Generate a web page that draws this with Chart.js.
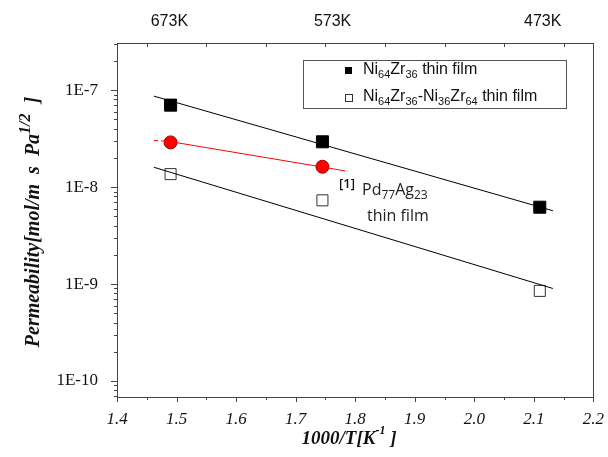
<!DOCTYPE html>
<html>
<head>
<meta charset="utf-8">
<script src="https://cdn.jsdelivr.net/npm/chart.js@4.4.0/dist/chart.umd.min.js"></script>
<style>
  html, body { margin: 0; padding: 0; background: #fff; }
  #wrap { width: 608px; height: 457px; }
</style>
</head>
<body>
<div id="wrap"><canvas id="myChart" width="608" height="457"></canvas></div>
<script>
// measured points, 1000/T
let tempX = [1.49, 1.745, 2.11];
let niZrFilm = [7.0e-8, 2.93e-8, 6.2e-9];
let niZrBilayer = [1.36e-8, 7.3e-9, 8.5e-10];
let pdAgX = [1.49, 1.745];
let pdAgFilm = [2.89e-8, 1.62e-8];

// fitted lines (end points)
let fitX = [1.462, 2.132];
let niZrFitY = [8.67e-8, 5.7e-9];
let bilayerFitY = [1.6e-8, 9.0e-10];
let pdAgFitX = [1.462, 1.49, 1.783];
let pdAgFitY = [3.03e-8, 2.94e-8, 1.47e-8];

// top temperature labels
let topLabels = ['673K', '573K', '473K'];
let topLabelX = [1.488, 1.762, 2.115];

function pts(xs, ys) {
  let out = [];
  for (let i = 0; i < xs.length; i++) out.push({x: xs[i], y: ys[i]});
  return out;
}

// draws text pieces with sub / sup parts
function richText(ctx, parts, x, y, size, family, weight, ratio) {
  let r = ratio || 0.62;
  let cx = x;
  for (let p of parts) {
    let s = p.sub || p.sup ? Math.round(size * r) : size;
    ctx.font = (weight || '') + ' ' + s + 'px ' + family;
    let dy = p.sub ? size * 0.32 : (p.sup ? -size * 0.42 : 0);
    ctx.fillText(p.t, cx, y + dy);
    cx += ctx.measureText(p.t).width;
  }
  return cx - x;
}
function richWidth(ctx, parts, size, family, weight, ratio) {
  let r = ratio || 0.62;
  let w = 0;
  for (let p of parts) {
    let s = p.sub || p.sup ? Math.round(size * r) : size;
    ctx.font = (weight || '') + ' ' + s + 'px ' + family;
    w += ctx.measureText(p.t).width;
  }
  return w;
}

const decor = {
  id: 'decor',
  afterDraw(chart) {
    const ctx = chart.ctx;
    const a = chart.chartArea;
    const xs = chart.scales.x, ys = chart.scales.y;
    ctx.save();
    // frame
    ctx.strokeStyle = '#444';
    ctx.lineWidth = 1;
    ctx.strokeRect(Math.round(a.left) + 0.5, Math.round(a.top) + 0.5,
      Math.round(a.right - a.left), Math.round(a.bottom - a.top));

    // x ticks bottom (outward) and top (inward)
    ctx.beginPath();
    for (let v = 1.4; v <= 2.2001; v += 0.05) {
      let px = Math.round(xs.getPixelForValue(v)) + 0.5;
      let major = Math.abs(v * 10 - Math.round(v * 10)) < 1e-6;
      ctx.moveTo(px, a.bottom);
      ctx.lineTo(px, a.bottom + (major ? 5 : 3));
      if (!major) {
        ctx.moveTo(px, a.top);
        ctx.lineTo(px, a.top + 4);
      }
    }
    // y ticks (outward, left)
    for (let e = -11; e <= -6; e++) {
      for (let m = 1; m <= 9; m++) {
        let v = m * Math.pow(10, e);
        if (v < ys.min || v > ys.max) continue;
        let py = Math.round(ys.getPixelForValue(v)) + 0.5;
        ctx.moveTo(a.left, py);
        ctx.lineTo(a.left - (m === 1 ? 6 : 3), py);
      }
    }
    ctx.stroke();

    ctx.fillStyle = '#111';
    ctx.textBaseline = 'middle';

    // top labels
    ctx.textAlign = 'center';
    ctx.font = '16px "Liberation Sans", Arial, sans-serif';
    for (let i = 0; i < topLabels.length; i++) {
      ctx.fillText(topLabels[i], xs.getPixelForValue(topLabelX[i]), 22);
    }

    // x title
    ctx.textAlign = 'left';
    const serif = '"Liberation Serif", "Times New Roman", serif';
    let xt = [{t: '1000/T[K'}, {t: '-1', sup: true}, {t: ' ]'}];
    let w = richWidth(ctx, xt, 19, serif, 'italic bold');
    richText(ctx, xt, 349 - w / 2, 439, 19, serif, 'italic bold');

    // y title
    ctx.save();
    ctx.translate(34, 222);
    ctx.rotate(-Math.PI / 2);
    let yt = [{t: 'Permeability[mol/m  s  Pa'}, {t: '1/2', sup: true}, {t: '  ]'}];
    let w2 = richWidth(ctx, yt, 20, serif, 'italic bold', 0.8);
    richText(ctx, yt, -w2 / 2, 0, 20, serif, 'italic bold', 0.8);
    ctx.restore();

    // legend
    ctx.fillStyle = '#fff';
    ctx.fillRect(303, 60, 263, 48);
    ctx.strokeStyle = '#555';
    ctx.strokeRect(303.5, 60.5, 263, 48);
    const sans = '"Liberation Sans", Arial, sans-serif';
    ctx.fillStyle = '#000';
    ctx.fillRect(345, 67, 7, 7);
    ctx.strokeStyle = '#333';
    ctx.strokeRect(345.5, 94.5, 7, 7);
    ctx.fillStyle = '#111';
    richText(ctx, [{t: 'Ni'}, {t: '64', sub: true}, {t: 'Zr'}, {t: '36', sub: true}, {t: ' thin film'}],
      363, 70, 16, sans, '', 0.68);
    richText(ctx, [{t: 'Ni'}, {t: '64', sub: true}, {t: 'Zr'}, {t: '36', sub: true},
      {t: '-Ni'}, {t: '36', sub: true}, {t: 'Zr'}, {t: '64', sub: true}, {t: ' thin film'}],
      363, 97, 16, sans, '', 0.68);

    // Pd-Ag annotation
    const ann = '"Open Sans", "Noto Sans", sans-serif';
    ctx.fillStyle = '#111';
    ctx.font = '600 13px ' + ann;
    ctx.fillText('[1]', 339, 184);
    ctx.fillStyle = '#222';
    richText(ctx, [{t: 'Pd'}, {t: '77', sub: true}, {t: 'Ag'}, {t: '23', sub: true}], 362, 190, 16, ann, '', 0.72);
    ctx.font = '16px ' + ann;
    ctx.fillText('thin film', 367, 216);
    ctx.restore();
  }
};

let ctx = document.getElementById('myChart').getContext('2d');
let chart = new Chart(ctx, {
  type: 'line',
  data: {
    datasets: [
      {label: 'fit1', data: pts(fitX, niZrFitY), borderColor: '#000', borderWidth: 1, pointRadius: 0},
      {label: 'fit2', data: pts(fitX, bilayerFitY), borderColor: '#000', borderWidth: 1, pointRadius: 0},
      {label: 'fit3', data: pts(pdAgFitX, pdAgFitY), borderColor: '#ff0000', borderWidth: 1, pointRadius: 0,
        segment: {borderDash: c => c.p0DataIndex === 0 ? [4, 3] : undefined}},
      {label: 'Ni64Zr36 thin film', data: pts(tempX, niZrFilm), showLine: false,
        pointStyle: 'rect', pointRadius: 8.5, backgroundColor: '#000', borderColor: '#000', borderWidth: 1},
      {label: 'Ni64Zr36-Ni36Zr64 thin film', data: pts(tempX, niZrBilayer), showLine: false,
        pointStyle: 'rect', pointRadius: 7.8, backgroundColor: '#fff', borderColor: '#333', borderWidth: 1},
      {label: 'Pd77Ag23 thin film', data: pts(pdAgX, pdAgFilm), showLine: false,
        pointStyle: 'circle', pointRadius: 6.5, backgroundColor: '#ff0000', borderColor: '#a00000', borderWidth: 1}
    ]
  },
  options: {
    responsive: false,
    animation: false,
    layout: {padding: {top: 43, right: 11, left: 0, bottom: 0}},
    plugins: {legend: {display: false}, tooltip: {enabled: false}},
    scales: {
      x: {
        type: 'linear', min: 1.4, max: 2.2,
        grid: {display: false}, border: {display: false},
        ticks: {
          stepSize: 0.1, padding: 4, color: '#111',
          font: {family: '"Liberation Serif", "Times New Roman", serif', size: 17, style: 'italic'},
          callback: v => v.toFixed(1)
        },
        afterFit: s => { s.height = 60; }
      },
      y: {
        type: 'logarithmic', min: 6.84e-11, max: 3.06e-7,
        grid: {display: false}, border: {display: false},
        ticks: {
          autoSkip: false, padding: 11, color: '#111',
          font: {family: '"Liberation Serif", "Times New Roman", serif', size: 17},
          callback: function (v) {
            let l = Math.log10(v);
            if (Math.abs(l - Math.round(l)) < 1e-6) return '1E' + Math.round(l);
            return '';
          }
        },
        afterFit: s => { s.width = 117; }
      }
    }
  },
  plugins: [decor]
});
</script>
</body>
</html>
